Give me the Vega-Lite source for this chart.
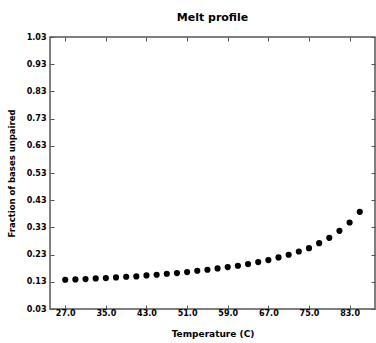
{
  "$schema": "https://vega.github.io/schema/vega-lite/v6.json",
  "width": 325,
  "height": 272,
  "autosize": {"type": "none"},
  "padding": {"left": 50, "top": 37, "right": 1, "bottom": 34},
  "config": {
    "view": {"stroke": "#555", "strokeWidth": 1.5},
    "font": "DejaVu Sans",
    "axis": {
      "grid": false,
      "domain": false,
      "tickSize": -4,
      "tickColor": "#555",
      "labelFont": "DejaVu Sans",
      "labelFontWeight": "bold",
      "labelFontSize": 8,
      "labelColor": "#000",
      "titleFont": "DejaVu Sans",
      "titleFontWeight": "bold",
      "titleColor": "#000"
    }
  },
  "title": {"text": "Melt profile", "fontSize": 11, "font": "DejaVu Sans", "fontWeight": "bold", "offset": 10, "color": "#000"},
  "data": {
    "values": [
      {"temp": 27, "frac": 0.1375},
      {"temp": 29, "frac": 0.1387},
      {"temp": 31, "frac": 0.1400},
      {"temp": 33, "frac": 0.1424},
      {"temp": 35, "frac": 0.1437},
      {"temp": 37, "frac": 0.1461},
      {"temp": 39, "frac": 0.1485},
      {"temp": 41, "frac": 0.1497},
      {"temp": 43, "frac": 0.1534},
      {"temp": 45, "frac": 0.1559},
      {"temp": 47, "frac": 0.1595},
      {"temp": 49, "frac": 0.1620},
      {"temp": 51, "frac": 0.1657},
      {"temp": 53, "frac": 0.1705},
      {"temp": 55, "frac": 0.1742},
      {"temp": 57, "frac": 0.1791},
      {"temp": 59, "frac": 0.1840},
      {"temp": 61, "frac": 0.1889},
      {"temp": 63, "frac": 0.1950},
      {"temp": 65, "frac": 0.2024},
      {"temp": 67, "frac": 0.2097},
      {"temp": 69, "frac": 0.2195},
      {"temp": 71, "frac": 0.2293},
      {"temp": 73, "frac": 0.2415},
      {"temp": 75, "frac": 0.2537},
      {"temp": 77, "frac": 0.2721},
      {"temp": 79, "frac": 0.2917},
      {"temp": 81, "frac": 0.3173},
      {"temp": 83, "frac": 0.3479},
      {"temp": 85, "frac": 0.3871}
    ]
  },
  "layer": [
    {
      "mark": {"type": "point", "filled": true, "color": "#000", "opacity": 1, "size": 38},
      "encoding": {
        "x": {
          "field": "temp", "type": "quantitative",
          "scale": {"domain": [24, 88], "nice": false, "zero": false},
          "axis": {"values": [27, 35, 43, 51, 59, 67, 75, 83], "format": ".1f", "title": "Temperature (C)", "labelPadding": 4, "titlePadding": 12, "titleFontSize": 9}
        },
        "y": {
          "field": "frac", "type": "quantitative",
          "scale": {"domain": [0.03, 1.03], "nice": false, "zero": false},
          "axis": {"values": [0.03, 0.13, 0.23, 0.33, 0.43, 0.53, 0.63, 0.73, 0.83, 0.93, 1.03], "format": ".2f", "title": "Fraction of bases unpaired", "labelPadding": 8, "titlePadding": 10, "titleFontSize": 8.5}
        }
      }
    },
    {
      "mark": {"type": "point", "opacity": 0},
      "encoding": {
        "x": {
          "field": "temp", "type": "quantitative",
          "axis": {"orient": "top", "values": [27, 35, 43, 51, 59, 67, 75, 83], "labels": false, "title": null}
        },
        "y": {
          "field": "frac", "type": "quantitative",
          "axis": {"orient": "right", "values": [0.03, 0.13, 0.23, 0.33, 0.43, 0.53, 0.63, 0.73, 0.83, 0.93, 1.03], "labels": false, "title": null}
        }
      }
    }
  ],
  "resolve": {"axis": {"x": "independent", "y": "independent"}}
}
